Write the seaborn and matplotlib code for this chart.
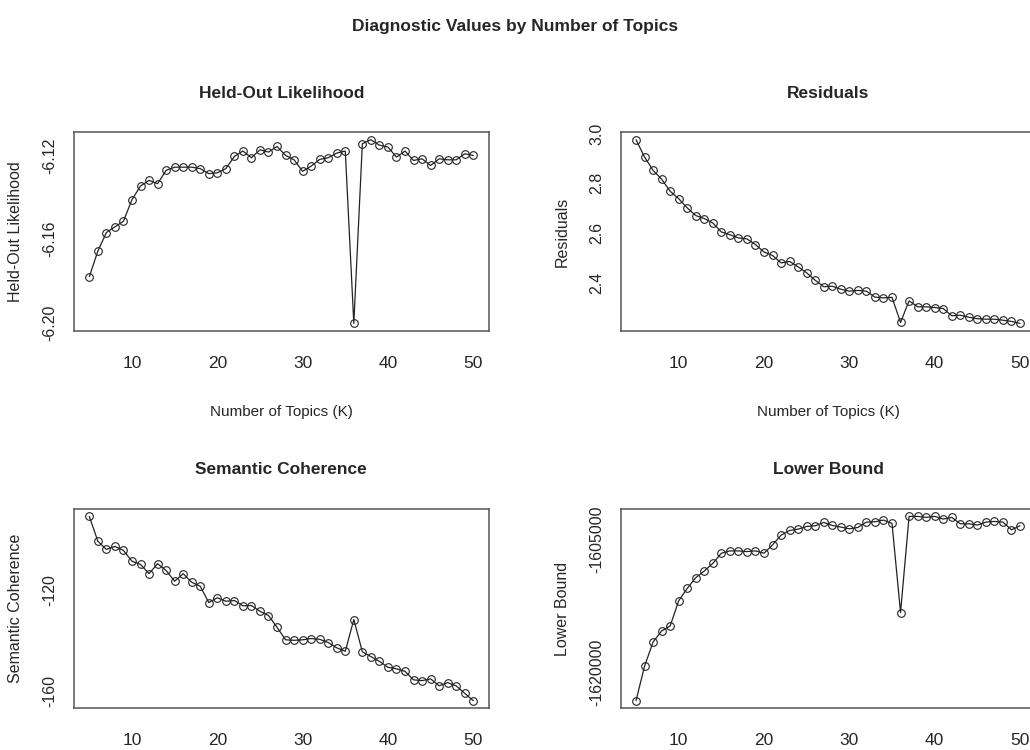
import matplotlib
matplotlib.use("Agg")
import matplotlib.pyplot as plt
import pandas as pd
import seaborn as sns

# ---- data (searchK diagnostics) ----
K = list(range(5, 51))

heldout = [-6.1779, -6.1657, -6.1568, -6.1541, -6.1514, -6.1411, -6.1346, -6.1319, -6.1335, -6.1271,
           -6.1256, -6.1256, -6.1256, -6.1263, -6.1287, -6.1283, -6.1263, -6.1205, -6.1179, -6.1211,
           -6.1173, -6.1184, -6.1157, -6.1200, -6.1221, -6.1276, -6.1251, -6.1219, -6.1211, -6.1189,
           -6.1179, -6.2002, -6.1144, -6.1125, -6.1151, -6.1160, -6.1208, -6.1179, -6.1224, -6.1216,
           -6.1248, -6.1216, -6.1221, -6.1221, -6.1192, -6.1200]

residuals = [2.976, 2.906, 2.852, 2.817, 2.768, 2.738, 2.701, 2.670, 2.658, 2.640,
             2.604, 2.593, 2.580, 2.576, 2.553, 2.523, 2.509, 2.479, 2.485, 2.463,
             2.439, 2.409, 2.383, 2.385, 2.373, 2.365, 2.368, 2.365, 2.341, 2.338,
             2.340, 2.239, 2.326, 2.302, 2.302, 2.299, 2.295, 2.266, 2.268, 2.260,
             2.254, 2.252, 2.252, 2.248, 2.243, 2.235]

semcoh = [-90.4, -100.3, -103.6, -102.4, -104.0, -108.3, -109.6, -113.3, -109.3, -112.0,
          -116.3, -113.3, -116.7, -118.3, -124.8, -122.9, -124.3, -124.0, -126.1, -126.0,
          -128.3, -130.0, -134.7, -139.7, -139.9, -139.7, -139.2, -139.5, -140.8, -142.9,
          -144.3, -131.6, -144.5, -146.4, -148.3, -150.7, -151.3, -152.3, -155.7, -156.0,
          -155.3, -158.1, -156.8, -158.1, -161.1, -164.0]

lbound = [-1623210, -1619318, -1616598, -1615351, -1614785, -1611951, -1610553, -1609345, -1608589, -1607720,
          -1606587, -1606322, -1606322, -1606398, -1606322, -1606587, -1605642, -1604547, -1604018, -1603867,
          -1603564, -1603489, -1603111, -1603451, -1603640, -1603829, -1603678, -1603073, -1603035, -1602847,
          -1603224, -1613273, -1602431, -1602431, -1602544, -1602431, -1602733, -1602544, -1603262, -1603262,
          -1603413, -1603073, -1602998, -1603073, -1603942, -1603489]

x_ticks = [10, 20, 30, 40, 50]

# y ticks and which of them carry a label (R drops overlapping ones)
panels = [
    ("Held-Out Likelihood", heldout,
     [-6.20, -6.18, -6.16, -6.14, -6.12], ["-6.20", "", "-6.16", "", "-6.12"], True),
    ("Residuals", residuals,
     [2.4, 2.6, 2.8, 3.0], ["2.4", "2.6", "2.8", "3.0"], True),
    ("Semantic Coherence", semcoh,
     [-160, -140, -120, -100], ["-160", "", "-120", ""], False),
    ("Lower Bound", lbound,
     [-1620000, -1615000, -1610000, -1605000], ["-1620000", "", "", "-1605000"], False),
]

sns.set_style("white")
NARROW = ["Liberation Sans Narrow", "Liberation Sans", "DejaVu Sans"]
plt.rcParams["font.family"] = ["Liberation Sans", "DejaVu Sans"]

fig = plt.figure(figsize=(10.3, 7.5), dpi=100)

# axes boxes in figure fractions (right column runs slightly off the canvas like the source)
boxes = [
    [0.0718, 0.559, 0.4026, 0.2645],
    [0.6026, 0.559, 0.4026, 0.2645],
    [0.0718, 0.056, 0.4026, 0.2653],
    [0.6026, 0.056, 0.4026, 0.2653],
]

for (title, vals, yt, ytl, show_xlab), box in zip(panels, boxes):
    ax = fig.add_axes(box)
    df = pd.DataFrame({"K": K, "value": vals})
    sns.lineplot(data=df, x="K", y="value", ax=ax, color="#222222", linewidth=0.9,
                 marker="o", markersize=5.5, markerfacecolor="none",
                 markeredgecolor="#222222", markeredgewidth=0.8)
    ax.margins(x=0.04, y=0.04)
    ax.autoscale_view()

    ax.set_xticks(x_ticks)
    ax.set_xticklabels([str(t) for t in x_ticks], fontfamily=NARROW, fontsize=12.5)
    ax.set_yticks(yt)
    ax.set_yticklabels(ytl, fontsize=11.5)
    for lab in ax.get_yticklabels():
        lab.set_rotation(90)
        lab.set_va("center")
        lab.set_ha("right")

    ax.tick_params(axis="both", direction="out", length=5, width=0.8, color="#444444")
    ax.tick_params(axis="x", pad=13)
    ax.tick_params(axis="y", pad=7)
    for s in ax.spines.values():
        s.set_visible(True)
        s.set_color("#555555")
        s.set_linewidth(1.1)

    ax.set_title(title, fontfamily=NARROW, fontweight="bold", fontsize=12.5, pad=25)
    ax.set_ylabel(title, fontsize=11.5, labelpad=14)
    # the bottom row's x labels fall below the visible canvas in the source
    if show_xlab:
        ax.set_xlabel("Number of Topics (K)", fontfamily=NARROW, fontsize=11, labelpad=25)
    else:
        ax.set_xlabel("")

fig.text(0.5, 1 - 27 / 750, "Diagnostic Values by Number of Topics",
         ha="center", va="center", fontfamily=NARROW, fontweight="bold", fontsize=12.5)

fig.savefig("out.png", dpi=100)
